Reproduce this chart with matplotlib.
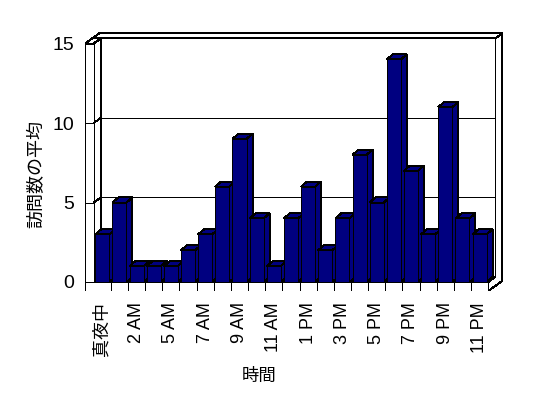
import matplotlib
matplotlib.use("Agg")
import matplotlib.pyplot as plt
from matplotlib.patches import Polygon

plt.rcParams['font.family'] = ['Liberation Sans', 'Noto Sans CJK JP']
plt.rcParams['patch.antialiased'] = False
plt.rcParams['lines.antialiased'] = False

hours = ['真夜中', '1 AM', '2 AM', '3 AM', '5 AM', '6 AM', '7 AM', '8 AM', '9 AM',
         '10 AM', '11 AM', '正午', '1 PM', '2 PM', '3 PM', '4 PM', '5 PM', '6 PM',
         '7 PM', '8 PM', '9 PM', '10 PM', '11 PM']
visits = [3, 5, 1, 1, 1, 2, 3, 6, 9, 4, 1, 4, 6, 2, 4, 8, 5, 14, 7, 3, 11, 4, 3]
yticks = [0, 5, 10, 15]
ymax = 15

# fake 3d (oblique) geometry, in data units
DX, DY = 0.41, 0.32      # one depth step
BDX, BDY = 0.35, 0.32    # bar depth
HW = 0.41                # half width of bar front
FT = 0.57                # floor thickness
LW = 0.72                # 1px lines
n = len(visits)
x0, x1 = -0.5, n - 0.5   # floor span
xw = -1.0                # outer edge of left wall

W, H = 548, 398
fig = plt.figure(figsize=(W / 100, H / 100), dpi=100)
# axes placed in pixels: x=-1 -> 85px, 17.15px per category; y=0 -> 282px, 15.9px per unit
ux, uy = 17.15, 15.9
left_px = 102.3 + ux * xw
right_px = 102.3 + ux * 23.5
bot_px = 282 + uy * FT
top_px = 282 - uy * 16.2
ax = fig.add_axes([left_px / W, 1 - bot_px / H, (right_px - left_px) / W, (bot_px - top_px) / H])
ax.set_xlim(xw, 23.5)
ax.set_ylim(-FT, 16.2)
ax.patch.set_visible(False)
for s in ax.spines.values():
    s.set_visible(False)


def P(x, y, d):
    return (x + d * DX, y + d * DY)


def face(pts, z=1):
    ax.add_patch(Polygon(pts, closed=True, facecolor='white', edgecolor='black', lw=LW, zorder=z))


# walls and floor
face([P(-1, ymax, 1), P(x1, ymax, 1), P(x1, ymax, 2), P(-1, ymax, 2)])
face([P(x1, -FT, 0), P(x1, -FT, 2), P(x1, ymax, 2), P(x1, ymax, 1), P(x1, 0, 1), P(x1, 0, 0)])
face([P(x0, 0, 1), P(x1, 0, 1), P(x1, ymax, 1), P(x0, ymax, 1)])
face([P(x0, 0, 0), P(x1, 0, 0), P(x1, 0, 1), P(x0, 0, 1)])
face([P(x0, 0, 0), P(x0, ymax, 0), P(x0, ymax, 1), P(x0, 0, 1)])
face([P(xw, ymax, 0), P(x0, ymax, 0), P(x0, ymax, 1), P(xw, ymax, 1)])
face([(xw, 0), (x0, 0), (x0, ymax), (xw, ymax)])
face([(xw, -FT), (x1, -FT), (x1, 0), (xw, 0)])

# gridlines
for v in yticks[1:-1]:
    a, b = P(x0, v, 1), P(x1, v, 1)
    ax.plot([a[0], b[0]], [a[1], b[1]], color='black', lw=LW, zorder=1.5)
    a, b = P(x0, v, 0), P(x0, v, 1)
    ax.plot([a[0], b[0]], [a[1], b[1]], color='black', lw=LW, zorder=1.5)
    ax.plot([xw, x0], [v, v], color='black', lw=LW, zorder=1.5)
for i in range(n - 1):
    ax.plot([i + 0.5, i + 0.5], [-FT, 0], color='black', lw=LW, zorder=1.5)

# bars: front faces from ax.bar, sides and tops added per bar
bars = ax.bar(range(n), visits, width=2 * HW, color='#000080', edgecolor='black', lw=LW)
for i, (rect, v) in enumerate(zip(bars, visits)):
    z = 3 + i * 0.01
    rect.set_zorder(z + 0.005)
    xl, xr = i - HW, i + HW
    side = [(xr, 0), (xr + BDX, BDY), (xr + BDX, v + BDY), (xr, v)]
    top = [(xl, v), (xr, v), (xr + BDX, v + BDY), (xl + BDX, v + BDY)]
    for pts in (side, top):
        ax.add_patch(Polygon(pts, closed=True, facecolor='#000080', edgecolor='black', lw=LW, zorder=z))

ax.set_yticks(yticks)
ax.set_yticklabels([str(t) for t in yticks], fontsize=14)
ax.set_xticks(range(0, n, 2))
ax.set_xticklabels(hours[::2], rotation=90, fontsize=13)
ax.tick_params(axis='y', length=0, pad=8)
ax.tick_params(axis='x', length=0, pad=8)

ax.set_xlabel('時間', fontsize=12.5)
ax.xaxis.set_label_coords((259 - left_px) / (right_px - left_px), (H - 368 - (H - bot_px)) / (bot_px - top_px))
ax.set_ylabel('訪問数の平均', fontsize=13)
ax.yaxis.label.set_va('center')
ax.yaxis.set_label_coords((37 - left_px) / (right_px - left_px), (H - 174 - (H - bot_px)) / (bot_px - top_px))

fig.savefig('out.png', dpi=100)
